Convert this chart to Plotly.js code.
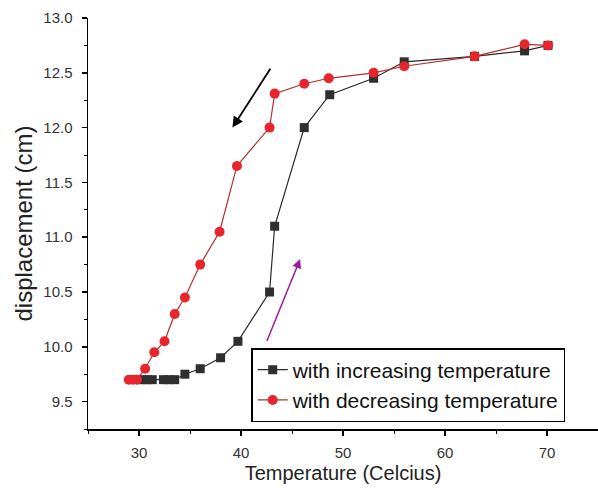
<!DOCTYPE html>
<html>
<head>
<meta charset="utf-8">
<script src="https://cdn.plot.ly/plotly-3.0.1.min.js"></script>
<style>html,body{margin:0;padding:0;background:#fff;}#chart{width:598px;height:488px;}</style>
</head>
<body>
<div id="chart"></div>
<script>
const incTemp = [30.3, 30.8, 31.3, 32.4, 32.9, 33.5, 34.5, 36.0, 38.0, 39.7, 42.8, 43.3, 46.2, 48.7, 53.0, 56.0, 62.9, 67.8, 70.1];
const incDisp = [9.70, 9.70, 9.70, 9.70, 9.70, 9.70, 9.75, 9.80, 9.90, 10.05, 10.50, 11.10, 12.00, 12.30, 12.45, 12.60, 12.65, 12.70, 12.75];
const decTemp = [70.1, 67.8, 62.9, 56.0, 53.0, 48.6, 46.2, 43.3, 42.8, 39.6, 37.9, 36.0, 34.5, 33.5, 32.5, 31.5, 30.6, 29.8, 29.4, 29.0];
const decDisp = [12.75, 12.76, 12.65, 12.56, 12.50, 12.45, 12.40, 12.31, 12.00, 11.65, 11.05, 10.75, 10.45, 10.30, 10.05, 9.95, 9.80, 9.70, 9.70, 9.70];
const seriesNames = ['with increasing temperature', 'with decreasing temperature'];
const xTitle = 'Temperature (Celcius)';
const yTitle = 'displacement (cm)';

const font = 'Liberation Sans, Arial, sans-serif';
const traces = [
  {x: incTemp, y: incDisp, name: seriesNames[0], mode: 'lines+markers', type: 'scatter',
   line: {color: '#2a2a2a', width: 1.2},
   marker: {symbol: 'square', size: 9, color: '#2f2f2f'}},
  {x: decTemp, y: decDisp, name: seriesNames[1], mode: 'lines+markers', type: 'scatter',
   line: {color: '#b03030', width: 1.2},
   marker: {symbol: 'circle', size: 10, color: '#e8242c'}}
];
const layout = {
  width: 598, height: 488,
  margin: {l: 88, r: 0, t: 18, b: 59},
  paper_bgcolor: '#fff', plot_bgcolor: '#fff',
  font: {family: font, color: '#222'},
  showlegend: true,
  legend: {x: 0.32, y: 0.017, xanchor: 'left', yanchor: 'bottom',
    bordercolor: '#000', borderwidth: 1.5, bgcolor: '#fff',
    font: {size: 21, color: '#111', family: font}, tracegroupgap: 0, itemwidth: 30},
  xaxis: {range: [25, 75], dtick: 10, tick0: 30, showgrid: false, zeroline: false,
    showline: true, linecolor: '#000', linewidth: 1.5, ticks: 'outside', ticklen: 5, tickwidth: 1.5, tickcolor: '#000',
    minor: {dtick: 5, ticks: 'outside', ticklen: 3, tickwidth: 1, tickcolor: '#000'},
    tickfont: {size: 15, color: '#333'}, ticklabelstandoff: 4,
    title: {text: xTitle, font: {size: 20, color: '#222'}, standoff: 6}},
  yaxis: {range: [9.25, 13.0], dtick: 0.5, tick0: 9.5, tickformat: '.1f', showgrid: false, zeroline: false,
    showline: true, linecolor: '#000', linewidth: 1.5, ticks: 'outside', ticklen: 5, tickwidth: 1.5, tickcolor: '#000',
    minor: {dtick: 0.25, ticks: 'outside', ticklen: 3, tickwidth: 1, tickcolor: '#000'},
    tickfont: {size: 15, color: '#333'}, ticklabelstandoff: 6,
    title: {text: yTitle, font: {size: 24, color: '#222'}, standoff: 4}},
  annotations: [
    {x: 39.16, y: 12.0, ax: 42.97, ay: 12.55, xref: 'x', yref: 'y', axref: 'x', ayref: 'y',
     text: '', showarrow: true, arrowhead: 2, arrowsize: 1.2, arrowwidth: 1.8, arrowcolor: '#000'},
    {x: 45.8, y: 10.80, ax: 42.48, ay: 10.04, xref: 'x', yref: 'y', axref: 'x', ayref: 'y',
     text: '', showarrow: true, arrowhead: 2, arrowsize: 1.2, arrowwidth: 1.5, arrowcolor: '#a0189a'}
  ]
};
Plotly.newPlot('chart', traces, layout, {displayModeBar: false, staticPlot: true});
</script>
</body>
</html>
